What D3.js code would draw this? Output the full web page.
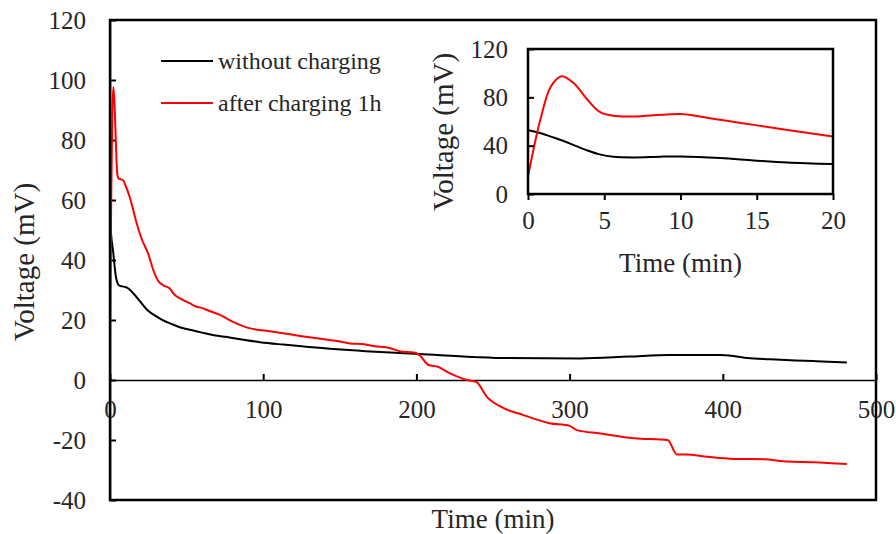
<!DOCTYPE html>
<html>
<head>
<meta charset="utf-8">
<script src="https://cdn.jsdelivr.net/npm/d3@7"></script>
<style>
  body { margin: 0; background: #fff; }
  svg text { font-family: "Liberation Serif", "Times New Roman", serif; fill: #262626; }
</style>
</head>
<body>
<div id="chart"></div>
<script>
// main chart, without charging
const blackTime = [0, 1, 2, 3, 4, 6, 8, 10, 12, 15, 20, 24, 30, 35, 40, 46, 55, 60, 67, 72, 78, 85, 98, 113, 128, 146, 167, 183, 202, 237, 259, 307, 339, 365, 398, 407, 416, 431, 459, 481];
const blackVolt = [53, 47, 43, 38, 34, 31.5, 31.2, 31, 30.5, 29, 26, 23.5, 21.3, 19.8, 18.7, 17.5, 16.4, 15.8, 15, 14.6, 14.2, 13.6, 12.6, 11.8, 11.1, 10.3, 9.6, 9.2, 8.7, 7.7, 7.3, 7.2, 7.8, 8.3, 8.3, 8, 7.3, 6.9, 6.3, 5.8];

// main chart, after charging 1h
const redTime = [0, 0.8, 1.5, 2.2, 3, 3.9, 4.7, 5.6, 7, 8.7, 10, 12.6, 15, 17, 20.7, 25, 28, 31.5, 35, 39, 42, 45.7, 52, 56.6, 58.7, 65, 71.8, 80.3, 91.4, 102, 113, 124, 135, 150, 156.7, 165, 172, 183, 189, 199, 202, 208, 214, 222, 233, 239, 246, 255, 270, 276, 287, 300, 304.6, 320, 342, 364, 370, 376, 390, 407, 427, 442, 459, 481];
const redVolt = [14, 61, 89, 97.7, 91.6, 78, 69, 67.2, 66.9, 66.5, 65, 61.4, 57, 53, 47, 42, 37, 33, 31.5, 30.5, 28.5, 27.2, 25.6, 24.4, 24.2, 23, 21.7, 19.4, 17.2, 16.4, 15.6, 14.7, 13.9, 12.8, 12.2, 12, 11.3, 10.6, 9.6, 9.1, 8.3, 5, 4.4, 2.2, 0, -0.6, -5.6, -8.9, -11.7, -12.8, -14.4, -15.3, -16.7, -17.8, -19.4, -20, -24.8, -24.8, -25.6, -26.3, -26.4, -27.2, -27.4, -28];

// inset, first 20 minutes
const insetTime = [0, 0.8, 1.5, 2.2, 3, 3.9, 4.7, 5.6, 7, 8.7, 10, 12.6, 14.8, 17, 20];
const insetRed = [14.5, 61, 89, 97.5, 91.6, 78, 68, 64.7, 64.2, 65.5, 66.2, 61.4, 57.2, 53, 47.6];
const insetBlack = [53, 50.5, 47.5, 44.5, 40.5, 36, 32.8, 30.8, 30.3, 30.9, 31, 29.7, 27.8, 26.1, 24.8];

const mainXTicks = [0, 100, 200, 300, 400, 500];
const mainYTicks = [-40, -20, 0, 20, 40, 60, 80, 100, 120];
const insetXTicks = [0, 5, 10, 15, 20];
const insetYTicks = [0, 40, 80, 120];

const seriesLabels = ["without charging", "after charging 1h"];
const seriesColors = ["#000000", "#ff0000"];

const W = 896, H = 534;
const tickFont = 25, xTitleFont = 27, yTitleFont = 29, legendFont = 24;
const fmt = d => String(d);

const svg = d3.select("#chart").append("svg")
    .attr("width", W)
    .attr("height", H);

function zip(t, v) {
  return t.map((d, i) => ({x: d, y: v[i]}));
}

// main chart
let x = d3.scaleLinear().domain([0, 500]).range([110, 876]);
let y = d3.scaleLinear().domain([-40, 120]).range([500, 20]);

let line = d3.line()
    .x(d => x(d.x))
    .y(d => y(d.y))
    .curve(d3.curveMonotoneX);

// zero line with upward ticks
let xAxis = svg.append("g")
    .attr("transform", "translate(0," + y(0) + ")")
    .call(d3.axisBottom(x).tickValues(mainXTicks).tickSize(-6).tickSizeOuter(0).tickPadding(20).tickFormat(fmt));

let yAxis = svg.append("g")
    .attr("transform", "translate(" + x(0) + ",0)")
    .call(d3.axisLeft(y).tickValues(mainYTicks).tickSize(-6).tickSizeOuter(0).tickPadding(24).tickFormat(fmt));

[xAxis, yAxis].forEach(g => {
  g.select(".domain").attr("stroke", "#000").attr("stroke-width", 1.5);
  g.selectAll(".tick line").attr("stroke", "#000").attr("stroke-width", 2);
  g.selectAll("text").attr("font-size", tickFont).attr("font-family", null);
});

svg.append("path")
    .datum(zip(blackTime, blackVolt))
    .attr("fill", "none")
    .attr("stroke", seriesColors[0])
    .attr("stroke-width", 2)
    .attr("d", line);

svg.append("path")
    .datum(zip(redTime, redVolt))
    .attr("fill", "none")
    .attr("stroke", seriesColors[1])
    .attr("stroke-width", 2)
    .attr("d", line);

svg.append("rect")
    .attr("x", x(0))
    .attr("y", y(120))
    .attr("width", x(500) - x(0))
    .attr("height", y(-40) - y(120))
    .attr("fill", "none")
    .attr("stroke", "#000")
    .attr("stroke-width", 2.5);

svg.append("text")
    .attr("x", (x(0) + x(500)) / 2)
    .attr("y", 528)
    .attr("text-anchor", "middle")
    .attr("font-size", xTitleFont)
    .text("Time (min)");

svg.append("text")
    .attr("transform", "translate(34," + 262 + ") rotate(-90)")
    .attr("text-anchor", "middle")
    .attr("font-size", yTitleFont)
    .text("Voltage (mV)");

// legend
seriesLabels.forEach((label, i) => {
  let ly = 61 + i * 42;
  svg.append("line")
      .attr("x1", 161).attr("x2", 213)
      .attr("y1", ly).attr("y2", ly)
      .attr("stroke", seriesColors[i])
      .attr("stroke-width", 2);
  svg.append("text")
      .attr("x", 218)
      .attr("y", ly + 8)
      .attr("font-size", legendFont)
      .text(label);
});

// inset (smoothed lines)
let ix = d3.scaleLinear().domain([0, 20]).range([528, 833]);
let iy = d3.scaleLinear().domain([0, 120]).range([194, 49]);

let iline = d3.line()
    .x(d => ix(d.x))
    .y(d => iy(d.y))
    .curve(d3.curveCatmullRom.alpha(0.5));

svg.append("rect")
    .attr("x", ix(0))
    .attr("y", iy(120))
    .attr("width", ix(20) - ix(0))
    .attr("height", iy(0) - iy(120))
    .attr("fill", "#fff");

svg.append("path")
    .datum(zip(insetTime, insetBlack))
    .attr("fill", "none")
    .attr("stroke", seriesColors[0])
    .attr("stroke-width", 2)
    .attr("d", iline);

svg.append("path")
    .datum(zip(insetTime, insetRed))
    .attr("fill", "none")
    .attr("stroke", seriesColors[1])
    .attr("stroke-width", 2)
    .attr("d", iline);

let ixAxis = svg.append("g")
    .attr("transform", "translate(0," + iy(0) + ")")
    .call(d3.axisBottom(ix).tickValues(insetXTicks).tickSize(6).tickSizeOuter(0).tickPadding(11).tickFormat(fmt));

let iyAxis = svg.append("g")
    .attr("transform", "translate(" + ix(0) + ",0)")
    .call(d3.axisLeft(iy).tickValues(insetYTicks).tickSize(-6).tickSizeOuter(0).tickPadding(20).tickFormat(fmt));

[ixAxis, iyAxis].forEach(g => {
  g.select(".domain").remove();
  g.selectAll(".tick line").attr("stroke", "#000").attr("stroke-width", 2);
  g.selectAll("text").attr("font-size", tickFont).attr("font-family", null);
});

svg.append("rect")
    .attr("x", ix(0))
    .attr("y", iy(120))
    .attr("width", ix(20) - ix(0))
    .attr("height", iy(0) - iy(120))
    .attr("fill", "none")
    .attr("stroke", "#000")
    .attr("stroke-width", 2.5);

svg.append("text")
    .attr("x", (ix(0) + ix(20)) / 2)
    .attr("y", 272)
    .attr("text-anchor", "middle")
    .attr("font-size", xTitleFont)
    .text("Time (min)");

svg.append("text")
    .attr("transform", "translate(453," + 132 + ") rotate(-90)")
    .attr("text-anchor", "middle")
    .attr("font-size", yTitleFont)
    .text("Voltage (mV)");
</script>
</body>
</html>
